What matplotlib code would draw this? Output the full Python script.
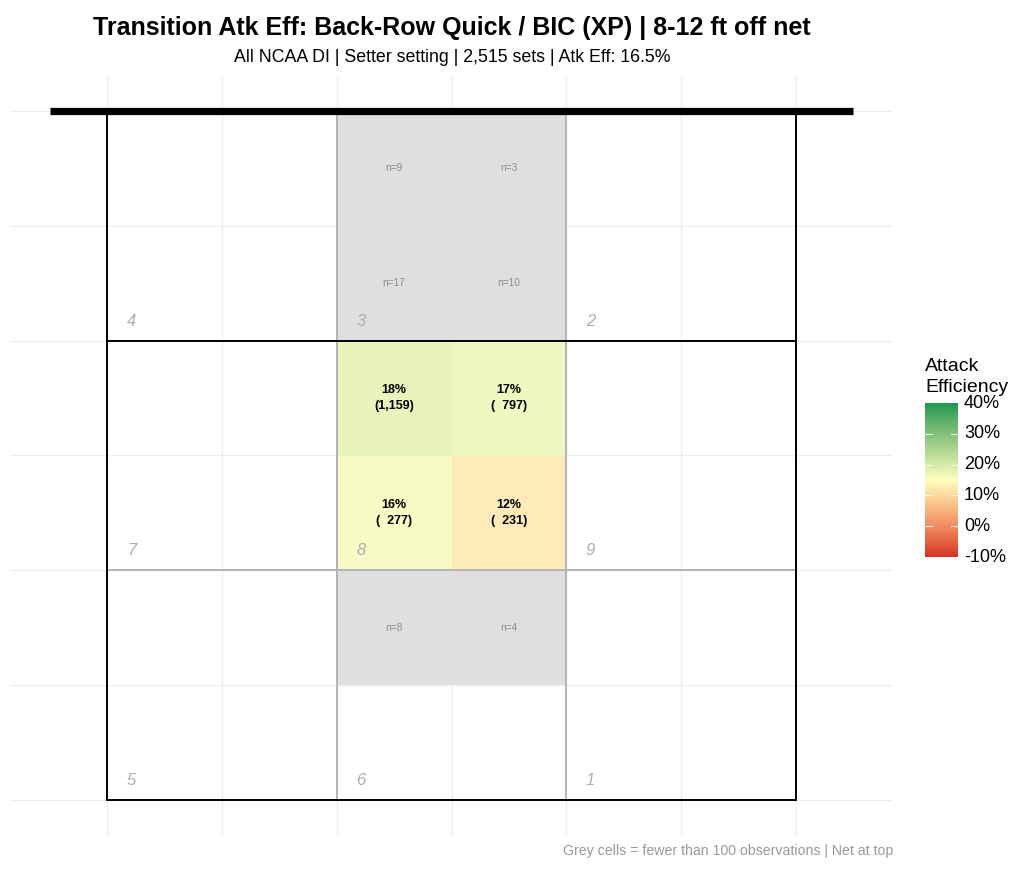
import numpy as np
import matplotlib
matplotlib.use("Agg")
import matplotlib.pyplot as plt
from matplotlib.colors import ListedColormap, Normalize
from matplotlib.patches import Rectangle

# ---------------- data ----------------
title = "Transition Atk Eff: Back-Row Quick / BIC (XP) | 8-12 ft off net"
subtitle = "All NCAA DI | Setter setting | 2,515 sets | Atk Eff: 16.5%"
caption = "Grey cells = fewer than 100 observations | Net at top"

# cell grid: column index (court x, 0..5) and row index (court depth, 0..5; 5 = at net)
cell_col = [2, 3, 2, 3, 2, 3, 2, 3, 2, 3]
cell_row = [5, 5, 4, 4, 3, 3, 2, 2, 1, 1]
cell_n = [9, 3, 17, 10, 1159, 797, 277, 231, 8, 4]
cell_eff = [np.nan, np.nan, np.nan, np.nan, 0.18, 0.17, 0.16, 0.12, np.nan, np.nan]
min_n = 100

# zones: number, column block, row block (each zone 2x2 cells)
zone_num = [4, 3, 2, 7, 8, 9, 5, 6, 1]
zone_colblk = [0, 1, 2, 0, 1, 2, 0, 1, 2]
zone_rowblk = [2, 2, 2, 1, 1, 1, 0, 0, 0]

eff_limits = (-0.10, 0.40)
eff_mid = 0.15
legend_breaks = [-0.10, 0.0, 0.10, 0.20, 0.30, 0.40]

# ---------------- colour scale (Lab interpolation like ggplot gradient2) ----------------
def hex2rgb(h):
    h = h.lstrip("#")
    return np.array([int(h[i:i + 2], 16) / 255 for i in (0, 2, 4)])

def srgb2lab(c):
    c = np.where(c <= 0.04045, c / 12.92, ((c + 0.055) / 1.055) ** 2.4)
    M = np.array([[0.4124, 0.3576, 0.1805], [0.2126, 0.7152, 0.0722], [0.0193, 0.1192, 0.9505]])
    xyz = M @ c / np.array([0.95047, 1.0, 1.08883])
    f = np.where(xyz > 0.008856, np.cbrt(xyz), 7.787 * xyz + 16 / 116)
    return np.array([116 * f[1] - 16, 500 * (f[0] - f[1]), 200 * (f[1] - f[2])])

def lab2srgb(lab):
    L, a, b = lab
    fy_ = (L + 16) / 116
    fx_ = fy_ + a / 500
    fz_ = fy_ - b / 200
    f = np.array([fx_, fy_, fz_])
    xyz = np.where(f ** 3 > 0.008856, f ** 3, (f - 16 / 116) / 7.787) * np.array([0.95047, 1.0, 1.08883])
    Minv = np.array([[3.2406, -1.5372, -0.4986], [-0.9689, 1.8758, 0.0415], [0.0557, -0.2040, 1.0570]])
    c = Minv @ xyz
    c = np.where(c <= 0.0031308, 12.92 * c, 1.055 * np.clip(c, 0, None) ** (1 / 2.4) - 0.055)
    return np.clip(c, 0, 1)

low, mid, high = (srgb2lab(hex2rgb(h)) for h in ("#d73027", "#ffffbf", "#1a9850"))
vals = np.linspace(0, 1, 256)
cols = []
for v in vals:
    if v < 0.5:
        t = v / 0.5
        cols.append(lab2srgb(low + (mid - low) * t))
    else:
        t = (v - 0.5) / 0.5
        cols.append(lab2srgb(mid + (high - mid) * t))
cmap = ListedColormap(cols)
norm = Normalize(*eff_limits)

# ---------------- figure ----------------
plt.rcParams["font.family"] = ["Liberation Sans", "DejaVu Sans"]
W, H = 1024, 875
fig = plt.figure(figsize=(W / 100, H / 100), dpi=100)

def fx(px):
    return px / W

def fy(py):
    return 1 - py / H

ax = fig.add_axes([fx(10), fy(834.5), fx(893) - fx(10), fy(76.5) - fy(834.5)])
ax.set_xlim(-0.85, 6.85)
ax.set_ylim(-0.3, 6.3)
ax.axis("off")

# panel grid
for g in range(7):
    ax.axvline(g, color="#EDEDED", lw=0.9, zorder=0)
    ax.axhline(g, color="#EDEDED", lw=0.9, zorder=0)

# tiles
n_strs = [f"{n:,}" for n in cell_n]
big = [s for s, n in zip(n_strs, cell_n) if n >= min_n]
wmax = max(len(s) for s in big)
for c, r, n, e, s in zip(cell_col, cell_row, cell_n, cell_eff, n_strs):
    if n < min_n or np.isnan(e):
        ax.add_patch(Rectangle((c, r), 1, 1, facecolor="#DFDFDF", edgecolor="none", zorder=1))
        ax.text(c + 0.5, r + 0.5, f"n={n}", ha="center", va="center", fontsize=7.3, color="#8C8C8C", zorder=4)
    else:
        ax.add_patch(Rectangle((c, r), 1, 1, facecolor=cmap(norm(e)), alpha=0.85, edgecolor="none", zorder=1))
        ax.text(c + 0.5, r + 0.5, f"{e * 100:.0f}%\n({s.rjust(wmax)})", ha="center", va="center",
                fontsize=9, fontweight="bold", color="black", linespacing=1.45, zorder=4)

# zone outlines
for z, cb, rb in zip(zone_num, zone_colblk, zone_rowblk):
    x0, y0 = cb * 2, rb * 2
    ax.add_patch(Rectangle((x0, y0), 2, 2, facecolor="none", edgecolor="#B5B5B5", lw=1.4, zorder=2))
    ax.text(x0 + 0.21, y0 + 0.17, str(z), ha="center", va="center", fontsize=12,
            style="italic", color="#ADADAD", zorder=4)

# court outline & attack line
ax.plot([0, 6, 6, 0, 0], [0, 0, 6, 6, 0], color="black", lw=1.4, zorder=3, solid_joinstyle="miter")
ax.plot([0, 6], [4, 4], color="black", lw=1.4, zorder=3)
# net
ax.plot([-0.5, 6.5], [6, 6], color="black", lw=5.2, zorder=5, solid_capstyle="butt")

# titles
fig.text(fx(452), fy(35), title, ha="center", va="baseline", fontsize=18, fontweight="bold")
fig.text(fx(452), fy(62), subtitle, ha="center", va="baseline", fontsize=12.8)
fig.text(fx(893), fy(855), caption, ha="right", va="baseline", fontsize=10.2, color="#999999")

# legend
cax = fig.add_axes([fx(925), fy(557), fx(958) - fx(925), fy(403) - fy(557)])
grad = np.linspace(eff_limits[0], eff_limits[1], 300).reshape(-1, 1)
cax.imshow(grad, cmap=cmap, norm=norm, aspect="auto", origin="lower",
           extent=[0, 1, eff_limits[0], eff_limits[1]])
cax.set_xlim(0, 1)
cax.set_ylim(*eff_limits)
cax.axis("off")
for b in legend_breaks[1:-1]:
    cax.plot([0, 0.2], [b, b], color="white", lw=0.8, alpha=0.8)
    cax.plot([0.8, 1], [b, b], color="white", lw=0.8, alpha=0.8)
for b in legend_breaks:
    ypix = 557 - (b - eff_limits[0]) / (eff_limits[1] - eff_limits[0]) * 154
    fig.text(fx(964), fy(ypix), f"{b * 100:.0f}%", ha="left", va="center", fontsize=13)
fig.text(fx(925), fy(371), "Attack", ha="left", va="baseline", fontsize=14)
fig.text(fx(925), fy(392), "Efficiency", ha="left", va="baseline", fontsize=14)

fig.savefig("out.png", dpi=100)
